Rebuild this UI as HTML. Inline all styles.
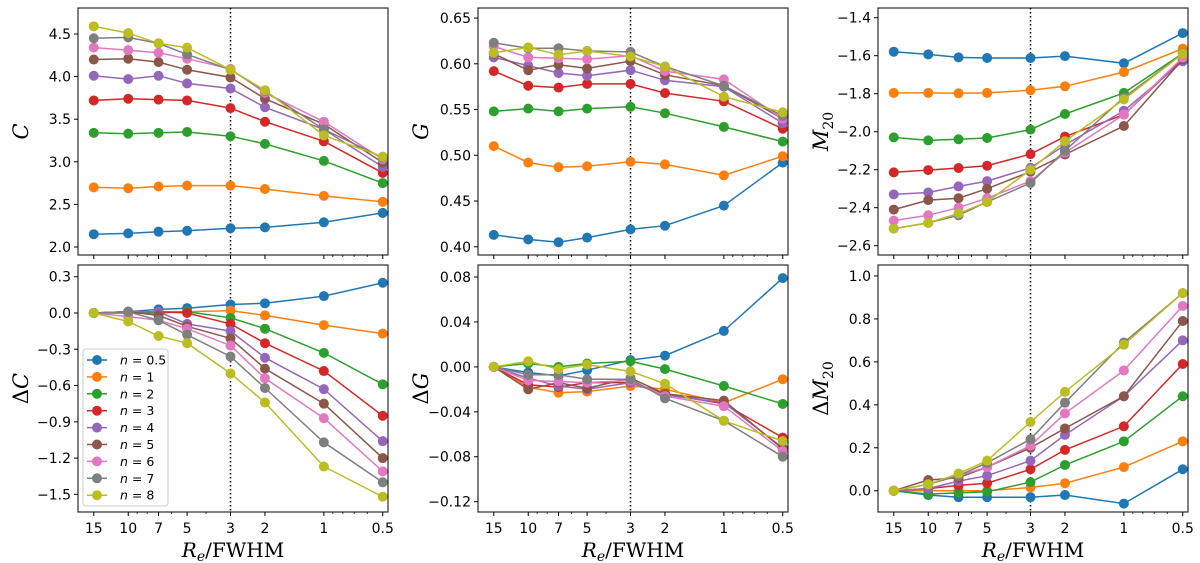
<!DOCTYPE html>
<html><head><meta charset="utf-8"><style>
html,body{margin:0;padding:0;background:#fff;}
svg{display:block;}
text{font-family:"DejaVu Sans","Liberation Sans",sans-serif;}
.math{font-family:"DejaVu Serif","Liberation Serif",serif;}
</style></head><body>
<svg id="fig" width="1200" height="563" viewBox="0 0 1200 563" xmlns="http://www.w3.org/2000/svg"></svg>
<script>
const xCats = [15, 10, 7, 5, 3, 2, 1, 0.5];
const xTickLabels = ["15","10","7","5","3","2","1","0.5"];
const seriesNames = ["0.5","1","2","3","4","5","6","7","8"];
const colors = ["#1f77b4","#ff7f0e","#2ca02c","#d62728","#9467bd","#8c564b","#e377c2","#7f7f7f","#bcbd22"];

const C_vals = [
 [2.15,2.16,2.18,2.19,2.22,2.23,2.29,2.40],
 [2.70,2.69,2.71,2.72,2.72,2.68,2.60,2.53],
 [3.34,3.33,3.34,3.35,3.30,3.21,3.01,2.75],
 [3.72,3.74,3.73,3.72,3.63,3.47,3.24,2.87],
 [4.01,3.97,4.01,3.92,3.86,3.64,3.38,2.94],
 [4.20,4.21,4.17,4.08,3.99,3.74,3.44,2.99],
 [4.34,4.31,4.28,4.21,4.09,3.81,3.47,3.03],
 [4.45,4.46,4.39,4.26,4.08,3.83,3.38,3.05],
 [4.59,4.51,4.39,4.34,4.08,3.84,3.31,3.06]];
const dC_vals = [
 [0,0.01,0.03,0.04,0.07,0.08,0.14,0.25],
 [0,0.01,0.01,0.01,0.02,-0.02,-0.10,-0.17],
 [0,0.00,0.00,0.01,-0.04,-0.13,-0.33,-0.59],
 [0,0.01,0.01,0.00,-0.09,-0.25,-0.48,-0.85],
 [0,0.01,0.01,-0.09,-0.15,-0.37,-0.63,-1.06],
 [0,0.01,-0.02,-0.11,-0.21,-0.46,-0.75,-1.20],
 [0,-0.03,-0.06,-0.13,-0.27,-0.54,-0.87,-1.31],
 [0,0.01,-0.06,-0.18,-0.36,-0.62,-1.07,-1.40],
 [0,-0.07,-0.19,-0.25,-0.50,-0.74,-1.27,-1.52]];
const G_vals = [
 [0.413,0.408,0.405,0.410,0.419,0.423,0.445,0.492],
 [0.510,0.492,0.487,0.488,0.493,0.490,0.478,0.499],
 [0.548,0.551,0.548,0.551,0.553,0.546,0.531,0.515],
 [0.592,0.576,0.574,0.578,0.578,0.568,0.559,0.529],
 [0.607,0.598,0.590,0.587,0.593,0.582,0.575,0.535],
 [0.611,0.593,0.599,0.595,0.603,0.588,0.576,0.540],
 [0.619,0.607,0.606,0.605,0.609,0.592,0.583,0.540],
 [0.623,0.617,0.617,0.614,0.613,0.597,0.576,0.543],
 [0.612,0.618,0.610,0.614,0.608,0.597,0.564,0.547]];
const dG_vals = [
 [0,-0.005,-0.008,-0.003,0.006,0.010,0.032,0.079],
 [0,-0.018,-0.023,-0.022,-0.017,-0.020,-0.032,-0.011],
 [0,0.003,0.000,0.003,0.005,-0.002,-0.017,-0.033],
 [0,-0.016,-0.018,-0.014,-0.014,-0.024,-0.033,-0.063],
 [0,-0.010,-0.017,-0.020,-0.014,-0.025,-0.032,-0.072],
 [0,-0.020,-0.014,-0.019,-0.010,-0.024,-0.030,-0.073],
 [0,-0.012,-0.013,-0.014,-0.012,-0.026,-0.035,-0.075],
 [0,-0.007,-0.007,-0.011,-0.011,-0.028,-0.048,-0.080],
 [0,0.005,-0.002,0.002,-0.004,-0.015,-0.048,-0.066]];
const M_vals = [
 [-1.579,-1.593,-1.609,-1.612,-1.612,-1.602,-1.640,-1.481],
 [-1.796,-1.796,-1.798,-1.796,-1.782,-1.761,-1.686,-1.563],
 [-2.030,-2.046,-2.040,-2.033,-1.989,-1.907,-1.796,-1.588],
 [-2.214,-2.202,-2.191,-2.179,-2.118,-2.026,-1.910,-1.620],
 [-2.330,-2.320,-2.288,-2.260,-2.190,-2.070,-1.890,-1.630],
 [-2.410,-2.360,-2.350,-2.300,-2.210,-2.120,-1.970,-1.620],
 [-2.468,-2.440,-2.400,-2.350,-2.260,-2.110,-1.910,-1.610],
 [-2.510,-2.480,-2.440,-2.370,-2.270,-2.100,-1.820,-1.590],
 [-2.510,-2.480,-2.430,-2.370,-2.200,-2.050,-1.830,-1.590]];
const dM_vals = [
 [0,-0.02,-0.03,-0.03,-0.03,-0.02,-0.06,0.10],
 [0,0.00,0.00,0.00,0.015,0.035,0.11,0.23],
 [0,-0.015,-0.01,-0.005,0.04,0.12,0.23,0.44],
 [0,0.01,0.025,0.035,0.10,0.19,0.30,0.59],
 [0,0.01,0.045,0.07,0.14,0.26,0.44,0.70],
 [0,0.05,0.06,0.11,0.20,0.29,0.44,0.79],
 [0,0.03,0.07,0.11,0.21,0.36,0.56,0.86],
 [0,0.03,0.07,0.13,0.24,0.41,0.69,0.92],
 [0,0.03,0.08,0.14,0.32,0.46,0.68,0.92]];

const C_ticks = [2.0,2.5,3.0,3.5,4.0,4.5];
const dC_ticks = [-1.5,-1.2,-0.9,-0.6,-0.3,0.0,0.3];
const G_ticks = [0.40,0.45,0.50,0.55,0.60,0.65];
const dG_ticks = [-0.12,-0.08,-0.04,0.00,0.04,0.08];
const M_ticks = [-2.6,-2.4,-2.2,-2.0,-1.8,-1.6,-1.4];
const dM_ticks = [0.0,0.2,0.4,0.6,0.8,1.0];

const NS = "http://www.w3.org/2000/svg";
const svg = document.getElementById('fig');
function mk(tag, attrs, parent){ const e=document.createElementNS(NS,tag); for(const k in attrs) e.setAttribute(k,attrs[k]); (parent||svg).appendChild(e); return e; }

const minus = s => s.replace('-', '\u2212');
const panels = [
 {key:'C',  x0:78,  y0:8,   data:C_vals,  ticks:C_ticks,  dom:[1.906,4.805], dec:1, lab:'C',  delta:false, sub:null, xlab:false},
 {key:'dC', x0:78,  y0:265, data:dC_vals, ticks:dC_ticks, dom:[-1.646,0.397], dec:1, lab:'C', delta:true, sub:null, xlab:true, legend:true},
 {key:'G',  x0:478, y0:8,   data:G_vals,  ticks:G_ticks,  dom:[0.391,0.661], dec:2, lab:'G', delta:false, sub:null, xlab:false},
 {key:'dG', x0:478, y0:265, data:dG_vals, ticks:dG_ticks, dom:[-0.1292,0.0907], dec:2, lab:'G', delta:true, sub:null, xlab:true},
 {key:'M',  x0:878, y0:8,   data:M_vals,  ticks:M_ticks,  dom:[-2.649,-1.349], dec:1, lab:'M', delta:false, sub:'20', xlab:false},
 {key:'dM', x0:878, y0:265, data:dM_vals, ticks:dM_ticks, dom:[-0.099,1.051], dec:1, lab:'M', delta:true, sub:'20', xlab:true}
];
const W=310, H=247;
const lgL = Math.log10(18.06), lgR = Math.log10(0.47);

panels.forEach(p=>{
  const g = mk('g',{});
  
  
  const xS = v => p.x0 + (lgL - Math.log10(v))/(lgL-lgR)*W;
  const yS = v => p.y0 + H - (v - p.dom[0])/(p.dom[1]-p.dom[0])*H;
  // y ticks
  p.ticks.forEach(t=>{
    const y=yS(t);
    mk('line',{x1:p.x0-4,x2:p.x0,y1:y,y2:y,stroke:'#000','stroke-width':1},g);
    const tx=mk('text',{x:p.x0-7,y:y+5,'text-anchor':'end','font-size':14,fill:'#000'},g);
    tx.textContent = minus(t.toFixed(p.dec));
    
    
  });
  // x major ticks
  xCats.forEach((c,i)=>{
    const x=xS(c);
    mk('line',{x1:x,x2:x,y1:p.y0+H,y2:p.y0+H+4,stroke:'#000','stroke-width':1},g);
    if(p.xlab){
      const tx=mk('text',{x:x,y:p.y0+H+21,'text-anchor':'middle','font-size':14,fill:'#000'},g);
      tx.textContent = xTickLabels[i];
      
      
    }
  });
  [9,8,6,4,0.9,0.8,0.7,0.6].forEach(c=>{
    const x=xS(c);
    mk('line',{x1:x,x2:x,y1:p.y0+H,y2:p.y0+H+2,stroke:'#000','stroke-width':0.8},g);
  });
  // vertical dotted line at 3
  const vx=xS(3);
  const vl=mk('line',{x1:vx,x2:vx,y1:p.y0,y2:p.y0+H,stroke:'#000','stroke-width':1.5,'stroke-dasharray':'1.5,2.5'},g);
  
  
  // series
  p.data.forEach((vals,si)=>{
    const sg=mk('g',{},g);
    
    
    const pts=vals.map((v,i)=>xS(xCats[i]).toFixed(1)+','+yS(v).toFixed(1)).join(' ');
    mk('polyline',{points:pts,fill:'none',stroke:colors[si],'stroke-width':1.5},sg);
    vals.forEach((v,i)=>{
      const c=mk('circle',{cx:xS(xCats[i]),cy:yS(v),r:5,fill:colors[si]},sg);
      
      
    });
  });
  // frame
  mk('rect',{x:p.x0,y:p.y0,width:W,height:H,fill:'none',stroke:'#000','stroke-width':1},g);
  // y label
  const lx=p.x0-50, ly=p.y0+H/2;
  const yl=mk('text',{x:0,y:0,'text-anchor':'middle','font-size':21,fill:'#000',transform:`translate(${lx},${ly}) rotate(-90)`},g);
  yl.setAttribute('class','math');
  
  
  if(p.delta){ const d=mk('tspan',{},yl); d.textContent='\u0394'; }
  const m=mk('tspan',{'font-style':'italic'},yl); m.textContent=p.lab;
  if(p.sub){ const s=mk('tspan',{'font-size':14,dy:5},yl); s.textContent=p.sub; }
  if(p.xlab){
    const xl=mk('text',{x:p.x0+W/2,y:p.y0+H+45,'text-anchor':'middle','font-size':20,fill:'#000'},g);
    xl.setAttribute('class','math');
    
    
    const a=mk('tspan',{'font-style':'italic'},xl); a.textContent='R';
    const b=mk('tspan',{'font-style':'italic','font-size':14,dy:4},xl); b.textContent='e';
    const c=mk('tspan',{dy:-4},xl); c.textContent='/FWHM';
  }
  if(p.legend){
    const lg=mk('g',{},g);
    
    
    mk('rect',{x:83,y:349,width:85,height:157,rx:3,fill:'#fff',stroke:'#ccc','stroke-width':1},lg);
    seriesNames.forEach((n,i)=>{
      const y=360+i*16.9;
      const e=mk('g',{},lg);
      
      
      mk('line',{x1:87,x2:107,y1:y,y2:y,stroke:colors[i],'stroke-width':1.5},e);
      mk('circle',{cx:97,cy:y,r:5,fill:colors[i]},e);
      const t=mk('text',{x:120,y:y+4.5,'font-size':12.5,fill:'#000'},e);
      const ni=mk('tspan',{'font-style':'italic'},t); ni.textContent='n';
      const rest=mk('tspan',{},t); rest.textContent=' = '+n;
    });
  }
});
</script>
</body></html>
